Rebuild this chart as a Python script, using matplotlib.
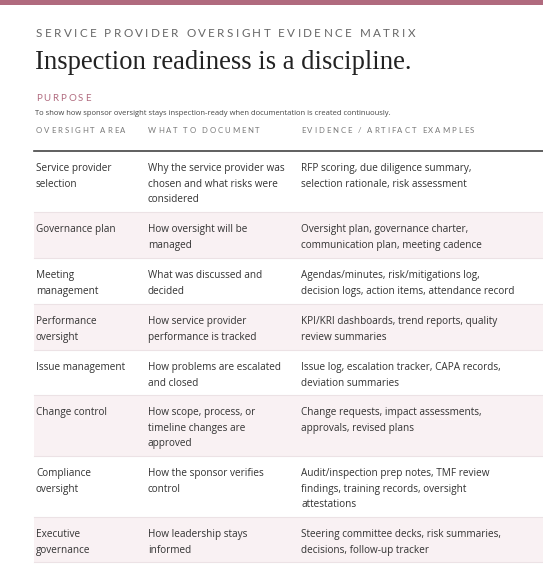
import matplotlib
matplotlib.use("Agg")
import matplotlib.pyplot as plt
from matplotlib.patches import Rectangle

areas = ["Service provider\nselection", "Governance plan", "Meeting\nmanagement", "Performance\noversight",
         "Issue management", "Change control", "Compliance\noversight", "Executive\ngovernance"]
document = ["Why the service provider was\nchosen and what risks were\nconsidered", "How oversight will be\nmanaged",
            "What was discussed and\ndecided", "How service provider\nperformance is tracked",
            "How problems are escalated\nand closed", "How scope, process, or\ntimeline changes are\napproved",
            "How the sponsor verifies\ncontrol", "How leadership stays\ninformed"]
evidence = ["RFP scoring, due diligence summary,\nselection rationale, risk assessment",
            "Oversight plan, governance charter,\ncommunication plan, meeting cadence",
            "Agendas/minutes, risk/mitigations log,\ndecision logs, action items, attendance record",
            "KPI/KRI dashboards, trend reports, quality\nreview summaries",
            "Issue log, escalation tracker, CAPA records,\ndeviation summaries",
            "Change requests, impact assessments,\napprovals, revised plans",
            "Audit/inspection prep notes, TMF review\nfindings, training records, oversight\nattestations",
            "Steering committee decks, risk summaries,\ndecisions, follow-up tracker"]
headers = ["OVERSIGHT AREA", "WHAT TO DOCUMENT", "EVIDENCE / ARTIFACT EXAMPLES"]
row_edges = [151, 212, 258, 304, 350, 395, 456, 517, 562]

W, H = 543, 570
fig = plt.figure(figsize=(W/100, H/100), dpi=100)
ax = fig.add_axes([0, 0, 1, 1])
ax.set_xlim(0, W); ax.set_ylim(H, 0); ax.axis("off")
fig.canvas.draw()
r = fig.canvas.get_renderer()

def tracked(x, y, s, size, color, spacing, **kw):
    for ch in s:
        t = ax.text(x, y, ch, fontsize=size, color=color, va="baseline", ha="left", family="Lato", **kw)
        w = t.get_window_extent(renderer=r).width
        if ch == " ":
            w = size * 100 / 72 * 0.28
        x += w + spacing

ax.add_patch(Rectangle((0, 0), W, 5, color="#b06a7e", lw=0))
tracked(36, 37, "SERVICE PROVIDER OVERSIGHT EVIDENCE MATRIX", 8.4, "#666666", 2.35)
ax.text(35, 69, "Inspection readiness is a discipline.", fontsize=19.2, family="Liberation Serif",
        color="#222222", va="baseline")
tracked(36, 101, "PURPOSE", 7, "#b06a7e", 1.8)
ax.text(35, 115, "To show how sponsor oversight stays inspection-ready when documentation is created continuously.",
        fontsize=5.5, family="Open Sans", color="#444444", va="baseline")
for hx, h in zip([36, 148, 301], headers):
    tracked(hx, 133, h, 5.6, "#777777", 1.85)

for i in range(8):
    y0, y1 = row_edges[i], row_edges[i + 1]
    if i % 2 == 1:
        ax.add_patch(Rectangle((34, y0), W - 34, y1 - y0, color="#f9f1f3", lw=0))
    if i > 0:
        ax.plot([34, W], [y0, y0], color="#ece2e5", lw=0.8)
    for cx, txt in zip([36, 148, 301], [areas[i], document[i], evidence[i]]):
        ax.text(cx, y0 + 12, txt, fontsize=7.2, family="Open Sans", color="#333333", va="top",
                linespacing=1.58)
ax.plot([34, W], [151, 151], color="#444444", lw=1.2)
ax.plot([34, W], [562, 562], color="#ece2e5", lw=0.8)

fig.savefig("out.png", dpi=100)
